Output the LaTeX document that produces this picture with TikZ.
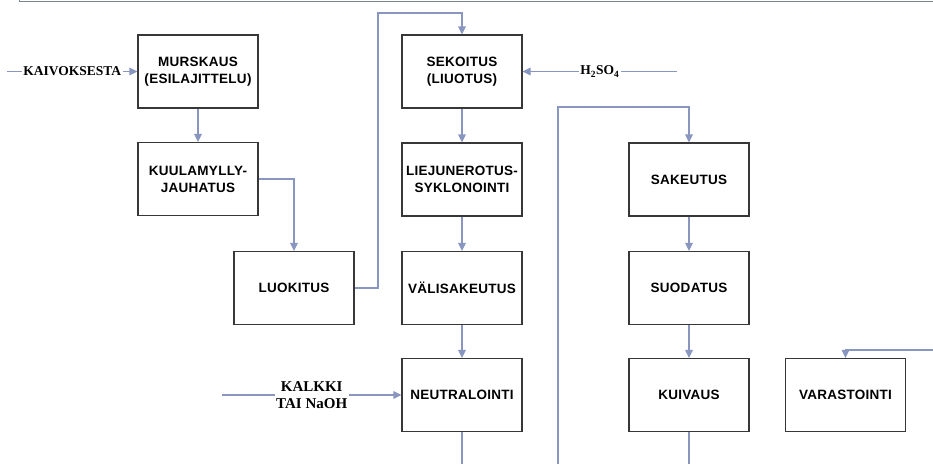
\documentclass[tikz,border=0pt]{standalone}
\usepackage{fontspec}
\setmainfont{Liberation Serif}
\newfontfamily\boxfont[LetterSpace=2]{Liberation Sans}
\usetikzlibrary{arrows.meta}
\definecolor{flowc}{RGB}{136,150,192}
\definecolor{boxc}{RGB}{55,55,55}
\definecolor{topc}{RGB}{125,132,142}
\begin{document}
\begin{tikzpicture}[x=1pt,y=-1pt,
  box/.style={draw=boxc,line width=1.1pt,minimum width=120pt,minimum height=73pt,
    inner sep=0pt,align=center,font=\boxfont\bfseries\fontsize{13.5}{17}\selectfont},
  flow/.style={draw=flowc,line width=1.1pt},
  arr/.style={flow,-{Triangle[length=8pt,width=7.5pt]}},
  lab/.style={fill=white,inner sep=1.5pt,align=center,font=\bfseries\fontsize{13.5}{17}\selectfont},
  bigl/.style={lab,font=\bfseries\fontsize{15}{17}\selectfont}]
\useasboundingbox (0,0) rectangle (933,464);
% top frame edge
\draw[topc,line width=1.8pt] (19.5,-3) -- (19.5,1.5) -- (940,1.5);
% boxes
\node[box] (murs) at (198,71.5) {MURSKAUS\\(ESILAJITTELU)};
\node[box] (kuul) at (198,179) {KUULAMYLLY-\\JAUHATUS};
\node[box] (luok) at (294,288) {LUOKITUS};
\node[box] (sek) at (462,71.5) {SEKOITUS\\(LIUOTUS)};
\node[box] (liej) at (462,179.5) {LIEJUNEROTUS-\\SYKLONOINTI};
\node[box] (vali) at (462,288) {VÄLISAKEUTUS};
\node[box] (neut) at (462,395) {NEUTRALOINTI};
\node[box] (sak) at (689,179.5) {SAKEUTUS};
\node[box] (suod) at (689,288) {SUODATUS};
\node[box] (kuiv) at (689,395) {KUIVAUS};
\node[box] (var) at (845.5,395) {VARASTOINTI};
% free ends
\coordinate (kin) at (7,71.5);
\coordinate (hin) at (677,71.5);
\coordinate (cin) at (222,395);
\coordinate (c1) at (378,13);
\coordinate (nb) at (462,464);
\coordinate (b2) at (558,464);
\coordinate (c2) at (558,107);
\coordinate (kb) at (689,464);
\coordinate (rin) at (933,350);
% connectors
\draw[arr] (kin) -- node[lab]{KAIVOKSESTA} (murs.west);
\draw[arr] (murs) -- (kuul);
\draw[arr] (kuul.east) -| (luok.north);
\draw[arr] (luok.east) -| (c1) -| (sek.north);
\draw[arr] (hin) -- node[lab]{H\textsubscript{2}SO\textsubscript{4}} (sek.east);
\draw[arr] (sek) -- (liej);
\draw[arr] (liej) -- (vali);
\draw[arr] (vali) -- (neut);
\draw[arr] (cin) -- node[bigl]{KALKKI\\TAI NaOH} (neut.west);
\draw[flow] (neut.south) -- (nb);
\draw[arr] (b2) -- (c2) -| (sak.north);
\draw[arr] (sak) -- (suod);
\draw[arr] (suod) -- (kuiv);
\draw[flow] (kuiv.south) -- (kb);
\draw[arr] (rin) -| (var.north);
\end{tikzpicture}
\end{document}
